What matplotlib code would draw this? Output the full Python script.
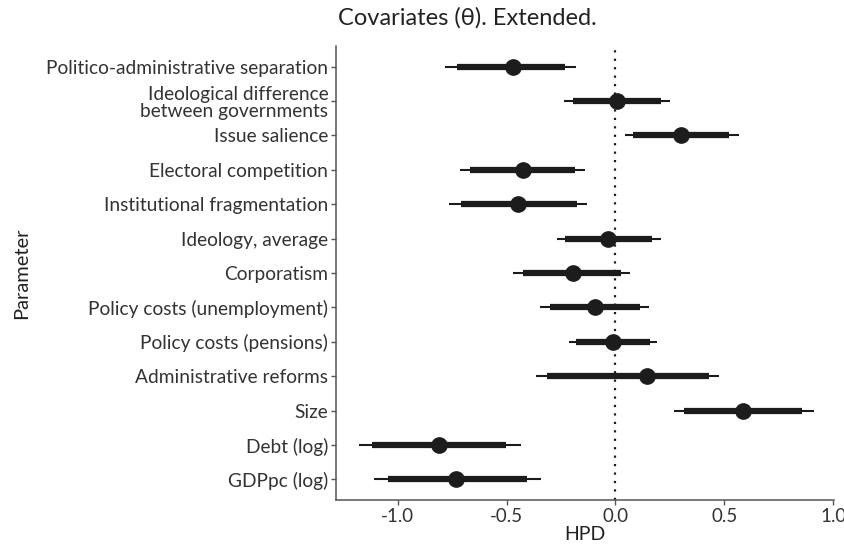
import matplotlib
matplotlib.use('Agg')
import matplotlib.pyplot as plt
import numpy as np

plt.rcParams['font.family'] = ['Lato', 'DejaVu Sans']

params = ['Politico-administrative separation',
          'Ideological difference\nbetween governments',
          'Issue salience',
          'Electoral competition',
          'Institutional fragmentation',
          'Ideology, average',
          'Corporatism',
          'Policy costs (unemployment)',
          'Policy costs (pensions)',
          'Administrative reforms',
          'Size',
          'Debt (log)',
          'GDPpc (log)']

est = [-0.469, 0.008, 0.300, -0.426, -0.446, -0.035, -0.195, -0.092, -0.011, 0.143, 0.588, -0.811, -0.734]
inner_lo = [-0.726, -0.195, 0.082, -0.669, -0.711, -0.234, -0.426, -0.300, -0.180, -0.315, 0.315, -1.120, -1.045]
inner_hi = [-0.231, 0.208, 0.523, -0.188, -0.177, 0.166, 0.026, 0.111, 0.158, 0.431, 0.857, -0.503, -0.408]
outer_lo = [-0.781, -0.238, 0.043, -0.715, -0.765, -0.269, -0.472, -0.346, -0.214, -0.366, 0.269, -1.180, -1.108]
outer_hi = [-0.181, 0.249, 0.566, -0.141, -0.131, 0.208, 0.066, 0.155, 0.192, 0.474, 0.911, -0.434, -0.341]

xticks = [-1.0, -0.5, 0.0, 0.5, 1.0]

n = len(params)
y = np.arange(n)[::-1] + 1  # first parameter on top

fig = plt.figure(figsize=(8.45, 5.5), dpi=100)
ax = fig.add_axes([336 / 845, 50 / 550, (834 - 336) / 845, (502 - 48) / 550])

dark = '#1c1c1c'
# reference line at zero
ax.axvline(0, color=dark, linestyle=(0, (1, 2.8)), lw=1.6, zorder=1)
ax.hlines(y, outer_lo, outer_hi, color=dark, lw=1.5, zorder=2)
ax.hlines(y, inner_lo, inner_hi, color=dark, lw=4.5, zorder=3)
ax.plot(est, y, 'o', color=dark, markersize=11, zorder=4)

ax.set_xlim(-1.284, 1.004)
ax.set_ylim(0.4, n + 0.6)
ax.set_xticks(xticks)
ax.set_xticklabels(['%.1f' % v for v in xticks])
ax.set_yticks(y)
ax.set_yticklabels(params, linespacing=1.0)

for s in ['top', 'right']:
    ax.spines[s].set_visible(False)
for s in ['left', 'bottom']:
    ax.spines[s].set_color('#555555')
    ax.spines[s].set_linewidth(1.1)

ax.tick_params(axis='both', colors='#555555', length=3.5, width=1, labelsize=13.8,
               labelcolor='#333333', pad=2)
ax.tick_params(axis='x', labelsize=13.5)
ax.set_xlabel('HPD', fontsize=14, color='#222222', labelpad=1)
ax.set_ylabel('Parameter', fontsize=14.5, color='#222222', labelpad=12)
fig.text(467 / 845, 1 - 18 / 550, 'Covariates (θ). Extended.', ha='center', va='center',
         fontsize=17, color='#222222')

fig.savefig('out.png', dpi=100)
